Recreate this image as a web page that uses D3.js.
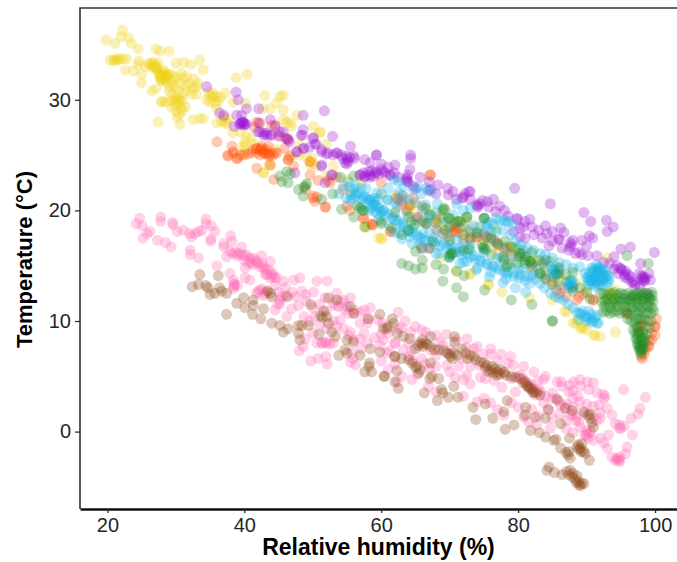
<!DOCTYPE html>
<html>
<head>
<meta charset="utf-8">
<script src="https://cdn.jsdelivr.net/npm/d3@7"></script>
<style>
  html, body { margin: 0; padding: 0; background: #fff; }
  svg { display: block; }
</style>
</head>
<body>
<svg width="677" height="562"></svg>
<script>
// values: [relative humidity, temperature]
const yellowPts = [[19.8,35.4],[21.1,35.1],[22.2,36.3],[22,35.7],[23.1,35.6],[23.5,35.1],[24.5,34.6],[27.1,34.6],[27.7,34.4],[29,34.4],
  [20.4,33.6],[20.9,33.6],[21.3,33.7],[21.8,33.7],[22.3,33.7],[22.8,33.7],[21,33.5],[21.6,33.6],[24.6,33.5],[24.5,33.2],[22.6,32.7],[23.8,32.6],[25,32.3],[25,31.5],
  [26,33.3],[26.5,33.3],[27,33.1],[27.2,32.9],[27.7,32.3],[28.2,32.1],[28.7,32.3],[29.1,32.3],[27.9,31.8],[28.4,31.9],[27.6,32],[28.3,32.5],[27.3,32.7],[26.6,32.9],
  [27.9,32.2],[28.1,32.4],[27.5,32.4],[28.5,32.2],[28,31.7],[27,32.9],[26.3,33.1],[28.9,32],[27.8,32],[28.2,32.7],[26.8,33.4],[27.4,33.3],[29.5,32.2],[28.6,31.6],[25.6,33],
  [30,33.3],[31.1,33.4],[32.2,33.2],[33.5,33.6],[34,32.7],[26.5,30.8],[27.1,31],[29,30.8],[29.5,30.5],[30.2,30.2],[30.5,31.5],[31,32],[31.5,31.3],[32,31.5],[32.5,31],[33,30.5],[32.3,30.5],[31,30.5],[30,32],[29.8,31.2],[30.8,32.4],[31.6,32.1],[32.6,31.9],[33.2,31.5],[31.5,30.8],[30.3,30.9],[29.4,31.6],[33,31.2],[29.1,31.2],
  [28,29.9],[27.9,29.8],[28.5,29.8],[29.2,29.9],[29.9,29.5],[30.4,29.8],[30.8,29.3],[31,29],[30.5,28.7],[30.2,28.4],[30,29.9],[30.6,30],[27.4,28],[30.6,27.8],[32.5,28.2],[33.5,28.3],[34,28.3],[29.8,30.1],[29.4,29.3],[30.9,29.9],[31.4,29.4],[30,29],
  [34.5,30],[35,30.3],[35.5,30.3],[36,30.3],[36.5,30.2],[35,29.8],[35.7,29.7],[37.2,30.6],[38.8,32],[40.4,32.3],[36,27.9],[37.2,28],[37.5,27.8],[38.3,27],[35.4,30.6],[36.2,29.9],[34.8,30.7],[36,29.2],[37,28.4],[36.7,28],[37.6,28.3],
  [43,30.4],[45.2,30.3],[45.7,30.4],[44.7,29.7],[45.7,29.1],[43.8,29.2],[42.7,29.2],[38.4,29.8],[40.2,29.7],[47.7,28.6],[46.7,27.9],[45.7,28.2],[50.1,27.6],[51.1,27.1],[39.4,27.1],[40.3,26.7],[41,26.5],[40.1,25.8],[40,25.2],[42.8,23.4],[43.8,24.1],[49.6,24.4],[49.6,24.1],[57.9,18.5],[59.6,17.5],[52,26],[48,25],[53,24],
  [46.2,28],[46.9,27.6],[40.1,26.2],[39.8,25.8],[48.1,25.9],[49.9,24.7],[50,24.3],[51,27],[42.8,23.4],[43.6,24.1],[41.5,26],[44.5,25.5],[46.9,24.9],[50.5,24],[49.1,24.8],
  [60.1,17.4],[73,14.3],[75.7,13.3],[77.6,12.6],[81.7,12.1],[85,11.9],[87.1,10.8],[88.4,9.8],[89.3,9.5],[91.1,8.7],[92,8.6],[94.2,9],[88.6,10.1],[89.1,9.3],[90,9.2],[71,14.5],[88,9.8],[89.5,9.3],[91.2,8.7],[86.8,10.9],
  [64.2,20.3],[64,20],[68.4,19.4],[71.5,19.1],[71,18.8],[72,18.5],[79.3,16.6],[79.8,16.4],[78.8,16.8],[80.3,16.1],[81.3,15.5],[85.7,13.7],[93.5,12.2],[94,11.8],[93.2,12.5],[92.5,11.9],[93,15.7],[74,18.5],[76,17.8],[83,15],[86,14],
  [63.9,20],[64.2,20.5],[68.6,19.6],[71.2,19],[71,18.5],[69,18.4],[68.3,19.2],[78.3,16.4],[79.3,16.6],[80.2,16.4],[78.8,16.3],[57.6,18.5],[60,17.5],[73,14.2],[75.6,13.3],[68.8,15.7],[76.8,18.4],[72.5,18.1],[93.6,12.1],[93.6,12.5],[94.2,12.8],[82.5,15.4],[84,14.9],[86,13.6],[70,19.2],[77.3,16.9],
  [62,21.3],[65,20.5],[67,20],[69,19],[72.5,19],[74,17.8],[75,17.3],[76.5,16.5],[81,15.2],[82,14.9],[84,14.4],[87,13.5],[88.5,13.5],[90,12.9],[55,22.8],[52,23.1],[55.5,21.7],[57,22.5],[60,21.5],[85,15.4]];

const orangePts = [[36,26.2],[38.2,25.8],[37.6,24.9],[39,24.7],[38.4,25.2],[41.8,23.8],[43.8,24.1],[44.3,22.8],[41.8,25.6],[42.3,25.4],[42.8,25.2],[43.3,25.1],[43.8,25.2],[44.2,25],[44.8,25.2],[41.8,25.2],[41.3,25.5],[42.3,25],[43,25.4],[43.6,24.9],[42.5,25.6],[40.5,25.1],
  [42.3,25.5],[43,25.2],[43.7,25],[44.5,25.2],[41.8,25.6],[43.2,25.5],[43.5,25.8],[46.4,24.6],[46.6,24.9],[41.8,28],[44,27.7],[44.5,27.7],[46.4,26.4],[45.9,25.6],[38.4,25.3],[37.6,25],[38.9,24.7],[39.4,25],[39.9,25],[41,25.2],[50,21.1],[50.6,21.2],[51.8,20.3],[50.8,22.7],[52.2,22.7],[54.4,21.9],[57.4,19.3],[55,20.4],
  [42.3,27.9],[42.5,25.8],[46.4,24.6],[47.2,24],[49.6,24.4],[49.6,23.2],[50.1,21.3],[50.3,20.8],[51.9,20.3],[55.4,20],[57.4,19.3],[58.6,18.8],[46,26.5],[45,26.8],[41.5,27.5],[52.5,22.5],[53.5,23],[49,21.9],
  [58.8,18.7],[61.4,18.1],[67.2,23.2],[62.5,21],[65.2,19.4],[63.7,20],[70.8,18.2],[74,17.6],[75.4,17.6],[76.7,17.2],[65.9,16.7],[67,16.6],[83.7,15.2],[88.6,11.9],[88.9,12.2],[90.9,11.9],[97.8,9.5],[100,9.5],[100,8.7],[99.1,7.7],[98.1,6.6],[95.9,10.7],[100.2,10.2],[98,9.8],[99.1,8.2],
  [66.5,18.8],[68,18.3],[69.8,17.6],[70.7,18.8],[73,18],[78,16.4],[81,15.8],[85,13.5],[86.5,13],[97.6,8.9],[98.6,7.4],[99.5,8.9],[98.4,7],[99,10],
  [70.8,18.4],[71,18],[65.4,19.4],[64.2,20.5],[62.2,21.1],[62.8,20.8],[61.3,18.1],[58.6,18.7],[73.9,17.6],[75.4,17.6],[76.4,17.3],[67.1,23.2],[64.7,21.1],[60,22.5],[67.1,16.6],[65.9,16.6],[71.5,18.4],[73,17.3],[78.3,16.7],[86.1,12.5],[85.6,12.8],[95.8,10.7],[98,9.6],[100,9.5],[99,7.8],[98,6.8],[99.5,8.3],[91,11.9],[70.5,18.1],[63.2,21.3],
  [63,20.5],[66,20.4],[68,19.2],[69,17.9],[72,17.4],[75,17.9],[77,16.8],[79,15.9],[82,14.8],[84,13.9],[86,14.3],[88,13],[89.5,12.4],[87,12.2]];

const purplePts = [[34.5,31.2],[38.8,30.7],[39.1,30],[40.3,29.2],[42.1,29.2],[36.4,28.8],[37,28.6],[38.9,28.6],[39.6,28.6],[48.6,28.6],[51.7,29],[39.4,27.8],[39.9,27.9],[40.3,27.8],[38.5,27.6],[39.7,28],[40,27.7],[42.1,27.9],[43.8,28.2],[44.5,27.6],
  [42.3,27.1],[42.8,27],[43.3,26.8],[43.8,26.8],[45.1,26.7],[45.7,27.1],[46.4,26.4],[48.6,27.3],[48.5,26.8],[50.1,26.6],[50.5,26],[52.9,26.7],[55.5,25.8],[47.7,25.3],[48.7,25.6],[51.3,25.3],[52,25.1],[53.5,25.2],[55,24.6],[55.4,24.8],[54.7,24.3],[56,24.9],[57.6,24.6],[59.3,25],[58.4,24.3],[56.9,23.2],[57.6,23.1],[58.4,23],[59.1,23.4],[52.9,23.2],[47.4,23.4],[51.3,24],[51.8,22.5],[55,24.2],
  [39.6,27.9],[40.1,27.8],[39.8,28],[39.3,27.8],[42,27.1],[42.8,26.8],[43.2,27],[44,26.8],[45.2,27.1],[46.2,26.5],[46.6,26.2],[48.3,26.8],[50,26.5],[50.3,26],[51.3,25.5],[52.2,25.2],[53.5,25.2],[54.4,24.7],[55.2,24.4],[56.1,24.7],[54.9,24.9],[56.9,23.2],[57.6,23],[58.1,23.5],[52.7,23.2],[48.6,25.6],[47.6,25.3],[51.3,24.1],[49.5,25.7],[53,25],[54.2,25],
  [59.3,25],[64.3,25],[64.3,24.7],[64.2,23.7],[65.7,23],[58.9,23.1],[59.6,23.3],[60.6,23.4],[61.3,23.2],[58.6,23.6],[60,23.7],[63.7,22.9],[63.8,22.6],[65,22],[67.2,21.9],[68.3,22.3],[69.7,22],[69.8,21.4],[71.8,21.1],[73,21.7],[73,21],[74.1,20.4],[74.8,20.9],[76.4,21],[77.3,20.4],[75.7,20.3],[76.7,19.9],[79.5,22],[84.7,20.6],[89.6,19.8],[90.6,19],[92.9,19.1],[93.9,18.5],[93,18.1],
  [57.4,23.4],[58.3,23.2],[59.3,23.5],[60.3,23.5],[61.3,23.2],[63.9,23.2],[63.7,22.8],[63.9,22.6],[64.7,22.2],[66.9,21.8],[72,21.2],[72.8,21.7],[73.9,20.5],[74.1,20.3],[72.2,21.5],[80.3,18.4],[79.8,19.3],[79.3,18.1],[62.5,23],[61.9,23.4],[74.4,20.6],
  [79.9,19.2],[81.7,19.2],[84,18.6],[84.2,17.9],[86.2,18.4],[86.7,18],[85.9,17.4],[87.6,17.1],[89.3,17.3],[90.4,17.7],[90.9,17.5],[90,16.8],[82.3,17.8],[82,18.5],[80.8,18.5],[80.3,17.6],[81,17.5],[84.5,16.8],[86.4,16.6],[87.4,16.4],[87.8,16.9],[88.4,16.1],[89.3,16],[91.5,15.9],[95,16.5],[96.4,16.7],[99.9,16.2],[94,15.8],[97.9,15.2],
  [94.4,15],[94.9,14.8],[95.2,14.6],[95.7,14.5],[96.1,14.2],[96.4,14],[97.1,13.4],[98.1,13.7],[98.3,14],[99.1,14.3],[99.3,13.7],[97.8,13.1],[98.6,13.9],[97.7,14.3],[98.9,12.5],[95.5,14],[96.8,13.6],
  [94,14.7],[94.6,14.3],[95,14.7],[95.6,14.2],[96,13.8],[96.6,13.5],[97,13.2],[98.2,13.9],[98.5,13.7],[98,14.1],[98.4,13.6],[87.6,16.7],[88.9,16.2],[90.2,15.9],[92.5,15.3],[93.4,15.2],
  [60,24.2],[61,23.9],[62,24.1],[67,22.6],[68,21.5],[70.5,21.7],[71,21],[75.5,20.8],[78,20],[78.5,19.5],[81,19],[83,18.2],[83.5,17.5],[85,17.2],[86,17.4],[88,17.3],[85,18.1]];

const bluePts = [[54.5,22.2],[55.2,22.6],[55.6,21.4],[56,21.9],[56.3,22.2],[56.7,21.6],[57.1,22],[54.9,21.1],[55.5,20.9],[57.2,21],[57.8,21.2],[58.3,20.9],[58.9,20.8],[59.2,20.5],[59,21.1],[58.6,20.4],[59.5,21],[59.7,20.2],[58.2,20.2],[56.3,21.3],[53.8,21.5],[60,19.9],[59.4,19.7],[55.4,22.1],[56.4,21.5],[55.8,21.1],[57.4,21.2],[57.8,21],
  [58.4,21],[58.9,20.6],[59.6,20.2],[60.4,20],[61,19.7],[61.6,19.3],[62.1,19.1],[62.8,18.8],[63.3,18.5],[63.9,18.2],[64.5,18],[65.2,17.8],[65.8,17.5],[66.4,17.3],[67,17.2],[67.8,17],[68.6,16.8],[69.6,16.6],[70.2,16.4],[70.9,16.2],[71.7,16],[73,15.8],[73.8,15.6],[74.6,15.4],[75.4,15.2],[76.2,15],[77,14.8],[77.9,14.5],[78.6,14.4],[79.4,14.3],[80.2,14.2],[81,14.1],[81.8,14],[82.6,13.8],[83.2,13.4],[83.8,13],[84.7,12.5],[85.4,12.2],[86,12.1],[86.6,11.9],[87.3,11.5],[88,11.2],[88.6,10.8],[89.2,10.6],[89.8,10.4],[90.4,10.2],[91,10],[91.5,9.8],[90.7,10.6],
  [69.8,15.8],[71.5,15.2],[72.5,15.4],[74,14.8],[76,14.4],[78.2,13.8],[62,18],[63,17.4],[64.5,17],[66,16.5],[68,16.1],[80,14.8],[72,16.9],[75,16.2],[77.5,15.7],
  [57.8,22],[59.4,21.6],[60.9,20.9],[62.3,20.3],[63.8,19.7],[65.2,19.2],[66.7,18.8],[68.2,18.2],[69.6,17.9],[71,17.4],[73,16.9],[75,16.4],[77,15.7],[78.9,15.2],[80.8,14.7],[82.2,14.2],
  [57,20.3],[58.2,20],[59.7,19.2],[61.2,18.6],[62.7,18],[64.2,17.6],[65.6,17],[67,16.6],[68.5,16.1],[70,15.7],[72,15.3],[73.9,14.6],[75.8,14],[77.8,13.5],[79.6,13],[81.1,12.6],
  [59.1,19.9],[60.6,19.5],[62.5,19.1],[64,18.1],[65.5,17.6],[67,17.9],[68.4,17.3],[70,16.9],[71.5,16.3],[73.5,15.9],[75.5,15.1],[77.3,14.6],[79.4,14],[81,13.6],[60.3,20],[61.8,19.4],[63.2,18.8],[64.7,18.4],[66.1,17.9],[67.6,17.5],[69.1,17],[70.5,16.6],[72.5,16.1],[74.4,15.5],[76.4,14.9],[78.3,14.3],[80.2,13.9],[81.7,13.4],
  [61,22],[63.3,22.2],[62.5,21.6],[65.8,21.5],[67.2,19.6],[68.2,20.6],[66,20],[69.5,18.9],[70.5,19.6],[75,19.3],[75.8,18.9],[76.8,19.3],[77.9,19.1],[78.6,19],[73.5,18.6],[78.9,17.8],[79.6,17.2],[80.4,16.9],[81.3,16.6],[82.2,16.4],[83.2,16.1],[76.8,18.1],
  [66.6,22],[67.3,21.7],[64.7,21.9],[65.4,22.1],[71,20.6],[73,20.2],[72,20],[75.4,18.8],[76.4,18.7],[77.3,19.1],[78.3,19],[79.3,18.7],[75.4,18.4],[74.4,18.5],[76.1,18.1],[77.8,18.2],[63.2,20.9],[62.5,22.6],[61.8,22.8],[66.9,19.4],[79.8,16.7],[80.7,16.4],[81.2,15.8],[71.5,16.6],[73,16.4],[83.5,15.2],[84.5,15],
  [64,21],[65,20.7],[66.5,20.5],[68,19.8],[69,19.3],[71,19],[72,18.6],[73,18.2],[74,17.9],[75,17.8],[76,17.4],[77,17],[78,16.6],[79,16.1],[80,15.8],[81,15.2],[82,15],[83,14.7],[84,14.2],[86,13.2],[60,21.5],[61,21],[62,20.7],[63,21.4],[84,16],[85,15.7],[86,15.3],[87,15.1],[88,14.8],[89,14.9],[84.5,15.4],
  [85,14.7],[85.4,14.5],[85.8,14.3],[85.2,14],[85.6,14.9],[85.9,14.6],[85.1,14.3],[85.5,14.4],[85.2,14.6],[85.7,14.2],[87.2,13.6],[87.6,13.4],[88,13.2],[87.4,13],[87.8,13.7],[87.5,13.2],[88,13.5],[87.6,13.6],[87.3,13.3],[87.9,13],
  [89.8,14.3],[90.3,14],[90.8,14.4],[91.3,14.6],[91.7,14.9],[92.2,14.7],[92.7,14.4],[93.1,14.1],[92.4,13.7],[91.9,13.3],[91.4,13.6],[90.8,13.6],[90.3,13.3],[91.2,14.1],[91.8,14.1],[92.4,14.2],[90.7,14.8],[91.4,15.1],[93.2,13.5],[91.8,13.8],
  [90,13.9],[90.4,14.4],[90.6,13.9],[91,13.3],[91,14.7],[91.5,14.3],[91.6,13.4],[92,14.5],[92,13.7],[92.3,13.2],[92.6,13.9],[92.9,13.4],[92.9,14.1],[91.3,13.1],[90.5,13.6],[91.1,13.8],[91.9,14.8],[92.5,14.5],[93.3,13.8],[91.6,14.6],[90.2,13.6],
  [89,10.7],[90,10.4],[90.7,9.9],[91.7,9.8],[88.8,10.1],[89.4,10.9],[90.3,10.9],[91.2,10.3],[91.5,10.5],[90,10]];

const greenPts = [[45.2,23.1],[45.5,22.6],[46.4,22.5],[46.2,23.5],[46.7,23.3],[48.9,22.2],[48.7,22.1],[49.1,22.4],[47.9,21.9],[48.6,21.3],[51.3,21],[52.9,21.5],[54.2,20.1],[56,19.4],[56.9,20.2],[57.2,20],[56.5,20.4],[57.6,18.5],[54,23],[56,23.1],
  [63,15.2],[64,15],[65,14.7],[66,14.8],[66,15.5],[65,16.3],[68,15.1],[69.1,14.7],[69,13.6],[71,14.5],[72.1,14.1],[71,13],[72,12.2],[75.1,12.8],[79,11.9],[82,11.5],[85,10],[85,10],[95.9,15.9],[99,15.2],
  [60,19],[61.5,18.4],[64,18.2],[66.5,18.8],[67.5,17.2],[70.1,16],[70.4,16.1],[72.8,16.5],[75,16.7],[75.3,16.5],[77.9,15.5],[78.5,15.1],[79.8,15.2],[81.8,15.4],[83.2,14.3],[69.1,20.2],[69.3,20.1],[69.8,19.3],[75,19.3],[71.2,19],[72.5,19.4],[77,17],[80.5,16.1],[82,16.2],[84,15.5],[85.5,14.2],[88,12.7],[90.5,12],
  [57.4,20],[60,18.8],[63,17.8],[64.9,18.7],[64.4,19],[69,20],[70,19.3],[67.1,19.6],[66.4,20.2],[75.1,19.3],[70,15.8],[70.2,16.1],[72,16.4],[74.9,16.6],[74.7,16.9],[76.1,16],[77.8,15.8],[80.2,15.8],[81,15.5],[78.3,14.9],[71.5,19],[72.5,19.4],[69.3,18.2],[70,17.3],[83.2,14.3],[81.7,15.4],[80.2,16.1],
  [62,19.8],[64,19.4],[66,19],[68,18.9],[70,18.5],[72,17.8],[73,17.5],[74,18],[76,17.5],[78,17.2],[79,16.7],[82,15.2],[83,15.5],[85,13.3],[86,14.8],[87,14.2],[88,14.4],[89,13],[90,12.6],[84,13.8],
  [92,12.5],[92.5,12.5],[93,12.4],[93.5,12.5],[94,12.6],[94.5,12.4],[95,12.5],[95.5,12.4],[96,12.5],[96.5,12.3],[97,12.4],[97.5,12.5],[98,12.6],[98.5,12.5],[99,12.4],[99.5,12.6],
  [92.2,11.7],[92.7,11.8],[93.2,11.6],[93.7,11.7],[94.2,11.6],[94.7,11.8],[95.2,11.6],[95.7,11.7],[96.2,11.8],[96.7,11.6],[97.2,11.7],[97.7,11.6],[98.2,11.8],[98.7,11.6],[99.2,11.7],[99.7,11.8],
  [92.4,10.8],[92.9,10.9],[93.4,10.7],[93.9,10.8],[94.4,10.9],[94.9,10.7],[95.4,10.9],[95.9,10.8],[96.4,10.6],[96.9,10.9],[97.4,10.7],[97.9,10.9],[98.4,10.7],[98.9,10.8],[99.4,10.7],[99.8,10.9],
  [96.6,12.2],[97.1,12.3],[97.6,12.2],[98.1,12.3],[98.6,12.2],[99.1,12.1],[99.6,12.3],[96.3,12],[97.3,12],[98.3,12],[99.3,12],[93,12],[94,12],[94.8,12.1],[95.5,12],[95.8,11.3],[96.6,11.2],[97.4,11.3],[98.2,11.2],[99,11.3],[99.6,11.2],[92.6,11.3],[93.5,11.2],[94.5,11.3],
  [96,10.2],[96.5,10],[97,9.8],[97.3,9.4],[96.8,9.2],[97.5,8.8],[97.2,8.4],[98.2,9],[98.4,8.5],[97.6,8],[98,8.2],[97.8,7.7],[98.2,7.8],[97.7,7.4],[98,7.2],[98.3,7.5],[97.9,7],[98.6,8.1],[98.8,8.8],[99.2,9.4],[98.5,9.5],[99.4,10],[97.2,10.2],[98,10.2],[97.9,7.5],[98,7.8],[97.4,7.9],[97.5,9.4],[97.1,8.9],[97.7,9],[97.9,8.5],[98.1,8.6],[98.3,8.2],[97.6,7.6],[98.1,7.4],[97.4,8.4],[97.7,10.2],[98.6,10.1]];

const pinkPts = [[24.7,19.3],[24.2,18.8],[25.1,18.6],[27.8,19.4],[27.8,19],[29.5,18.9],[29.6,18.7],[26.2,18.1],[25.8,17.9],[25.2,17.5],[27.3,17.3],[28.5,17.1],[29.3,16.7],[30.2,18.1],[31.1,18.2],[32,17.9],[32.3,17.6],[32.8,17.9],[33.3,18.1],[33.8,18.2],[34.4,19.2],[34.4,18.8],[35.2,18.6],[35.7,18.1],[35.1,17.4],[35.1,17.2],[32.1,16.4],[32.1,16],[33.3,15.7],[36,15],
  [38,17.7],[38.2,17.2],[37,17],[37,16.7],[37.9,16.3],[38.7,16.2],[39.6,16.7],[39.6,16],[40.3,16],[41.1,15.7],[42.5,15.9],[43.8,15.4],[37.4,15.8],[40.6,15.2],[41.3,15.1],[40.1,14.8],[42.3,14.9],[43,14.6],[43.8,14.5],[44.3,14.2],[44.7,13.9],[43.8,13.9],[43.3,14.2],[41.8,15.4],[42.6,15.2],[38.9,15.9],[40,15.5],
  [38.3,16.1],[39.2,16.1],[40,15.9],[40.8,15.6],[41.5,15.6],[42,15.2],[42.8,14.9],[43.4,14.7],[44,14.1],[44.4,13.9],[41,15.3],[43.1,14.2],[38.5,13.4],[38.5,13.1],[42,12.7],[42.6,12.9],[43,12.5],[45.2,11.9],[45.5,12.2],[44.9,11.5],[39,13.2],
  [37.9,14.3],[38.4,13.7],[38.6,13.3],[38.4,12.96],[40.1,13.9],[40.8,13.7],[45.7,13.6],[47.2,13.7],[48.1,13.9],[50.6,13.6],[52.1,13.6],[48.4,12.7],[50.1,12.6],[42.3,12.8],[41.8,12.5],[43.3,12.7],[42.8,12.3],[44.5,11],[45.2,11.6],[46.9,11.1],[47.9,11.4],[46.2,10.4],[48.7,10.4],[48.9,8.4],[48.6,7.7],[48,7.3],[49.7,6.4],[50.8,6.6],[51.9,6.8],[52.1,6.1],[50.6,8],[51.3,8],[52,8],[53,8],[54,10.1],[55.5,9],[55.3,8.7],
  [51.8,12.1],[53.5,12.5],[54.5,11.9],[55.5,12.1],[56,11],[56.9,9.8],[58.1,10.2],[58.4,11.2],[56.9,8.4],[55.5,6.3],[56.2,6],[59,8.5],[59.8,7.8],[60.8,7.1],[62,8],[62.5,10.8],[53,11.6],[53.8,11.3],[55,11.3],[56,10.7],[44.5,13.2],[46,13],[49,12.4],[45,12.6],
  [53.3,11.4],[54.2,11.7],[54.6,11],[55.2,10.7],[51.4,8],[51.9,8.1],[52.5,7.9],[55.7,7.1],[55.9,6.6],[58,9.8],[57.5,8.9],[59.5,10.1],[60.2,9.8],[61,8.9],[63,9.4],[64.3,9],[63.2,7.4],[60,6.4],
  [46,12.3],[47,12.6],[47.5,12.2],[49,11.8],[50,11.2],[51,11.5],[52,10.9],[50.3,10.4],[49.5,10],[53,10],[53.5,9.5],[54.5,9.3],[57,10.8],[57.5,11],[52,9.3],[51,9.7],[50,8.9],[56,8.3],[58,8],[57,7.5],[60,8.8],[62.5,9.3],[63.5,10],[64,8],[65,9.5],[66.5,9],[68,8.7],[69.5,8.8],[71,8.3],[72.5,8.4],[74,7.7],[76,7.5],[77.5,7],[78.5,6.2],[62,6.1],[61,5.6],[63,5],[68,5.9],[70,5.4],[73,4.3],[74.5,4.9],[64.5,4.7],[68,3.6],[72,3.2],[75,3],[76,2.6],[79,2.6],[80,2.2],[82,2],[83,1.4],[85,1.2],[86,1.6],[88,3],[89,2.7],[90,2.5],[91,2.3],[92,1.2],[92,1.7],[87,0.3],[88,-0.1],[91,-0.8],
  [60.3,8.3],[62,8],[65.9,9.2],[65.9,6.6],[66.9,4.1],[62.3,4.5],[68.6,8.1],[69.6,6],[71.3,5.9],[72.5,5.1],[74,2.7],[77,2],[77.9,1.5],[73.5,7.5],[75.2,4.8],[77.6,4],[78.9,6.8],[79.6,3.6],[79.3,6],[80.8,5.9],[82.3,5.4],[84,5],[85.7,4.5],[86.4,4.1],[87.4,3.6],[88.1,4.5],[89,4.7],[90.1,4.5],[91,4.4],[89.1,4.1],[90.3,3.8],[91.5,3.5],[92.7,3.2],[93,2.1],[93.7,1.5],[94.2,0.7],[94.8,0.3],[95.5,0.5],[96.5,1.2],[97.5,1.6],[97.8,2.1],[98.6,3.1],[95.4,3.8],[96.7,-0.3],[95.9,-1.4],[95.7,-2],
  [94.9,-2.6],[94.4,-2.4],[93.7,-2.3],[94.7,-2.7],[94.6,-2.5],[94.9,-2.3],[94.2,-2.6],[93,-1.5],[92,-0.6],[93.2,-0.3],[90.1,-0.2],[90.3,-0.6],[89.9,0.1],[90.6,0],[90,-0.4],[90.4,-0.1],[89.7,-0.3],[89.1,0.4],[88.4,1],[87.6,1.5],[91,1.3],[91.5,1],[85,3.5],[83.7,2.6],[84.4,2],[86.2,2.4],[86.9,2.2],[88.1,2.2],[80.8,1.3],[81.5,0.9],[82.7,0.6],[84.7,0.3],[92.5,-1],[92.5,3],[92.4,3.4],[94.8,0.6],[95,0.3],
  [79.9,5],[80.7,4.8],[81.3,4.2],[81.9,3.8],[82.5,3.3],[79,4.8],[78,5.3],[64,6.8],[64.6,6.4],[66.4,6.1],[67,5.7],[70.2,7.4],[71.9,6.6],[74.3,6],[75.5,5.5],[61.2,7.3],[88.7,3.2],[91.8,2.4],[87,1],[89.6,1.7],[85.5,3],[83,3.8],
  [80.3,5.1],[80.9,4.6],[81.4,4.4],[82,4.2],[82.6,3.7],[83.3,3.6],[84,3.2],[84.9,3],[86,2.7],[87.1,2.5],[88,1.6],[88.5,1.3],[88.9,0.9],[86.3,4.5],[87.5,4.2],[88,3.7],[82.9,4.6],[83.7,4.7],[76,7],[74.9,7],[72.4,7.6],[68,6.9],[67.2,7.4],[66,7.9],[64.5,7.3],[69,7.8],[77,6.4],[70.8,4.9],[72,4.7],[73,5.9],[76.5,4.6],[65.3,5.2]];

const brownPts = [[33.5,14.2],[36.2,14.1],[32.4,13.1],[33.3,13.3],[34.4,13.2],[34.7,13],[35,12.4],[35.7,12.5],[36.4,13],[36.7,12.7],[37.4,12.5],[38.9,11.6],[39.9,12.1],[40.1,11.2],[41.3,11.9],[41.3,11.4],[37.4,10.6],[41.2,10.6],[42.4,10.2],[42.8,11.1],[43.8,12.5],[44,12.2],[43.4,12.7],[46.3,12.2],[44,9.8],[45.2,9.6],[45.7,9],[46.4,9.3],[47.9,9.6],[47.9,8.9],[48.4,9.6],[49.4,9.6],[48.1,8.3],[49.7,11.5],[51.1,10.5],[51.4,10.3],[51.6,10.9],[52,10.4],[52.3,9.8],[52.8,9],[50.9,8.8],[53.3,8.6],[52.3,12.1],[53.5,11.9],[55,8.3],[55.9,8.1],[54.7,7.4],[55,7.1],[53.8,6.9],[56.9,6.9],[58.4,7.5],[58.3,6.2],[58.2,5.9],[57.6,5.4],[58.6,5.4],[60.4,5],[60.5,5],[62.3,5.5],[62,4.5],[62.5,3.9],[56,10.7],[55.5,11.3],[59.8,10.6],[61.6,10.2],[61.8,9.8],[60.3,9.3],[61,9.5],[62.3,8.9],[59.8,7.2],[62,6.8],[58.1,10.2],
  [60.8,9.3],[63.2,8.6],[64.2,8.4],[67.2,8.6],[65.7,8],[65,7.5],[66.4,8],[67.2,7.7],[66,8.3],[62,6.8],[63,6.6],[64,6.5],[65.2,5.9],[65.7,5.6],[67.2,6.2],[67.4,5],[67.1,4.8],[68.4,4.8],[66.3,3.5],[68.2,2.8],[68.8,3.8],[69,3.5],[69.8,3.1],[70.6,4.1],[71.2,3.1],[70.7,8.6],[70.7,8.1],[69.6,7.1],[70.1,6.8],[70.6,7.1],[71.8,7.5],[73,6.9],[73.5,6.8],[74.5,6.3],[75.4,6],[76.6,5.7],[76.4,5.3],[77.4,5.6],[77.9,5.4],[76.9,5.1],[72.3,7.1],[75,6.2],[76,5.6],
  [65.4,7.8],[66.1,7.7],[66.7,7.9],[67.8,7.4],[68.4,7.4],[69.2,7.3],[69.9,7],[70.4,6.6],[71.1,6.9],[72.6,6.6],[73.8,6.5],[75.2,5.8],[75.8,5.4],[76.2,5.9],[77,5.4],[77.3,5.2],[78.2,5.1],[79,5],[79.6,4.9],[80.7,4.4],[81.3,4.1],[81.7,3.9],[82.2,3.5],[64.5,6.2],[65,5.8],[65.5,5.3],
  [73.4,2.2],[73.8,1.1],[75.2,2.5],[76.3,1.2],[77.9,1.8],[78.4,2.8],[78.1,0.2],[79.4,0.6],[80.3,4.8],[81,4.5],[82,3.9],[82.7,3.5],[83.2,3.3],[81.5,4.1],[82.3,3.6],[81.1,2.2],[81,1.5],[82.5,1.3],[84,1.2],[81.8,0.1],[83.1,-0.1],[84,-0.5],[85.2,-0.8],[85.5,-0.7],[86.2,-1.5],[87.4,-1.8],[87.6,-2.4],[87.5,-0.6],[88.6,-1.4],[89.1,-1.5],[89.6,-1.8],[89.8,-2],[88.8,-1.2],[89.3,-1.1],[90.4,-2.6],[87,-1.9],[89.2,-1.8],[88.9,-1.6],[87.3,-2.1],
  [84.5,-3.2],[84.2,-3.5],[85.3,-3.7],[86.4,-3.9],[87.4,-3.9],[87.9,-4.1],[87.1,-3.6],[87.6,-3.5],[88.3,-4.3],[88.8,-4.5],[89.3,-4.7],[89.1,-4.9],[89.6,-4.7],[88.6,-4],[88.9,-4.8],[88,-3.8],[88.5,-4.6],[90.5,1.6],[91,0.4],[90.5,1.2],[89.6,1.8],[86.2,0.7],[84.4,2],[85.7,2.9],[86.9,2.1],[87.9,1.9],[90.8,0.8],[90.2,1.5]];

const xTicks = [20, 40, 60, 80, 100];
const yTicks = [0, 10, 20, 30];

// draw order and colours of the groups
const groups = [
  { pts: yellowPts, color: "#eecf14" },
  { pts: pinkPts, color: "#ff69b4" },
  { pts: orangePts, color: "#ff4f0a" },
  { pts: purplePts, color: "#9a15d2" },
  { pts: brownPts, color: "#8b4513" },
  { pts: bluePts, color: "#18b2e8" },
  { pts: greenPts, color: "#228b22" }
];

const margin = { top: 8, right: 677, bottom: 509, left: 80 };
const fontFamily = "'Liberation Sans', Arial, sans-serif";

const x = d3.scaleLinear().domain([16, 103.2]).range([margin.left, margin.right]);
const y = d3.scaleLinear().domain([-7, 38.3]).range([margin.bottom, margin.top]);

const svg = d3.select("svg");

const marks = svg.append("g").style("filter", "blur(0.5px)");

groups.forEach(g => {
  marks.append("g")
    .selectAll("circle")
    .data(g.pts)
    .enter()
    .append("circle")
    .attr("cx", d => x(d[0]))
    .attr("cy", d => y(d[1]))
    .attr("r", 5.5)
    .attr("fill", g.color)
    .attr("fill-opacity", 0.3);
});

// frame
svg.append("path")
  .attr("d", `M${margin.left},${margin.bottom}V${margin.top}H${margin.right}`)
  .attr("fill", "none")
  .attr("stroke", "#333")
  .attr("stroke-width", 1.6);

const xAxis = svg.append("g")
  .attr("transform", `translate(0,${margin.bottom})`)
  .call(d3.axisBottom(x).tickValues(xTicks).tickSize(4).tickPadding(5).tickSizeOuter(0));
xAxis.select(".domain").attr("stroke", "#111").attr("stroke-width", 2.6);

const yAxis = svg.append("g")
  .attr("transform", `translate(${margin.left},0)`)
  .call(d3.axisLeft(y).tickValues(yTicks).tickSize(5).tickPadding(4).tickSizeOuter(0));
yAxis.select(".domain").remove();

svg.selectAll(".tick line").attr("stroke", "#222").attr("stroke-width", 1.2);
svg.selectAll(".tick text")
  .attr("fill", "#262626")
  .style("font-family", fontFamily)
  .style("font-size", "20px");

svg.append("text")
  .attr("x", 378.5)
  .attr("y", 555)
  .attr("text-anchor", "middle")
  .style("font-family", fontFamily)
  .style("font-size", "23px")
  .style("font-weight", "bold")
  .text("Relative humidity (%)");

svg.append("text")
  .attr("transform", "translate(31.5,259.5) rotate(-90)")
  .attr("text-anchor", "middle")
  .style("font-family", fontFamily)
  .style("font-size", "22px")
  .style("font-weight", "bold")
  .text("Temperature (°C)");
</script>
</body>
</html>
